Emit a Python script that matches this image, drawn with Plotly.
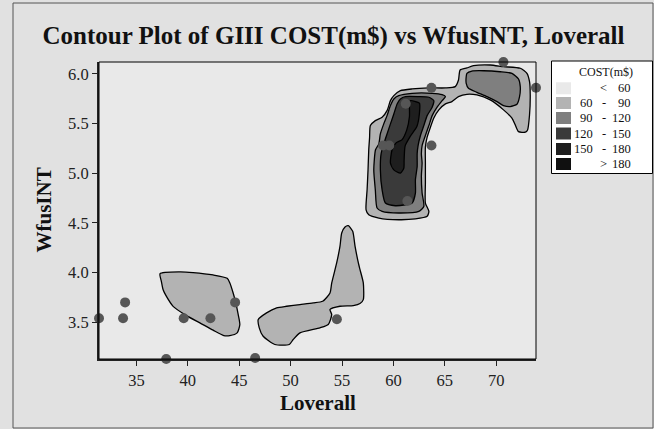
import plotly.graph_objects as go

# ---------------- data ----------------
# observed design points
pts_x = [31.36, 33.7, 33.9, 39.6, 42.2, 44.6, 37.9, 46.55, 54.5,
         70.7, 73.87, 63.7, 61.2, 59.0, 59.6, 63.7, 61.36]
pts_y = [3.54, 3.54, 3.70, 3.54, 3.54, 3.70, 3.13, 3.14, 3.53,
         6.12, 5.86, 5.86, 5.70, 5.28, 5.28, 5.28, 4.72]

# contour band boundaries (Loverall, WfusINT)
c60_left_x = [37.30, 39.22, 40.51, 42.46, 43.83, 44.09, 44.41, 44.67, 44.87, 45.06,
              44.80, 44.09, 43.50, 42.46, 41.17, 39.87, 38.57, 37.92, 37.59, 37.43]
c60_left_y = [3.99, 4.007, 4.00, 3.976, 3.942, 3.896, 3.795, 3.695, 3.594, 3.477,
              3.393, 3.366, 3.366, 3.42, 3.494, 3.567, 3.66, 3.76, 3.83, 3.91]

c60_mid_x = [46.85, 46.95, 47.33, 48.47, 49.87, 50.25, 50.91, 52.85, 53.66, 54.0, 53.83,
             54.80, 56.10, 56.75, 57.07, 57.07, 56.75, 56.59, 56.27, 56.04, 55.61, 55.29,
             54.97, 54.80, 54.48, 54.0, 53.83, 53.12, 52.2, 50.91, 49.61, 48.64, 47.66]
c60_mid_y = [3.527, 3.444, 3.359, 3.276, 3.276, 3.326, 3.393, 3.444, 3.477, 3.577, 3.628,
             3.661, 3.668, 3.688, 3.728, 3.896, 4.03, 4.097, 4.264, 4.415, 4.472, 4.459,
             4.398, 4.264, 4.097, 3.896, 3.795, 3.711, 3.695, 3.678, 3.661, 3.645, 3.594]

c60_big_x = [57.34, 57.44, 57.53, 57.60, 57.68, 57.76, 58.24, 58.90, 59.38, 59.71, 60.04,
             60.68, 61.82, 63.45, 65.06, 66.01, 66.33, 66.49, 67.15, 67.79, 69.42, 70.71,
             72.34, 72.99, 73.24, 73.31, 73.24, 73.05, 72.83, 72.17, 71.85, 71.53, 70.71,
             69.42, 68.12, 67.15, 66.33, 65.69, 65.06, 64.42, 63.93, 63.60, 63.28, 63.11,
             63.11, 63.11, 63.11, 63.45, 63.28, 62.14, 60.52, 58.58, 57.60]
c60_big_y = [4.632, 4.833, 5.034, 5.236, 5.356, 5.480, 5.530, 5.564, 5.630, 5.731, 5.781,
             5.831, 5.849, 5.859, 5.859, 5.872, 5.939, 6.040, 6.060, 6.083, 6.090, 6.073,
             6.057, 6.006, 5.922, 5.788, 5.587, 5.436, 5.413, 5.419, 5.487, 5.554, 5.638,
             5.738, 5.788, 5.795, 5.771, 5.721, 5.698, 5.638, 5.557, 5.464, 5.363, 5.263,
             5.102, 4.901, 4.700, 4.616, 4.566, 4.540, 4.532, 4.549, 4.582]

c90_big_x = [58.41, 58.24, 58.09, 58.26, 58.58, 58.73, 59.06, 59.38, 59.71, 60.04, 60.52,
             61.82, 63.77, 64.74, 65.06, 64.74, 64.25, 63.77, 63.45, 63.11, 62.79, 62.72,
             62.79, 62.72, 62.79, 62.96, 62.47, 60.52, 58.90]
c90_big_y = [4.650, 4.833, 5.034, 5.236, 5.296, 5.396, 5.497, 5.580, 5.681, 5.748, 5.781,
             5.805, 5.805, 5.791, 5.771, 5.731, 5.665, 5.580, 5.480, 5.380, 5.279, 5.196,
             5.102, 4.968, 4.801, 4.666, 4.616, 4.600, 4.616]

c90_top_x = [67.15, 67.63, 68.76, 70.39, 71.53, 72.17, 72.34, 72.27, 72.02, 71.36, 70.71,
             70.07, 69.10, 68.12, 67.30, 67.08, 67.08]
c90_top_y = [6.006, 6.029, 6.032, 6.022, 6.006, 5.949, 5.872, 5.771, 5.695, 5.671, 5.681,
             5.721, 5.771, 5.815, 5.855, 5.905, 5.972]

c120_x = [59.22, 58.90, 58.73, 58.80, 59.06, 59.38, 59.71, 60.04, 60.36, 60.68, 61.17,
          62.47, 63.45, 63.93, 63.77, 63.28, 62.96, 62.63, 62.40, 62.31, 62.31, 62.14,
          62.14, 61.82, 61.17, 60.19]
c120_y = [4.700, 4.833, 5.034, 5.196, 5.296, 5.396, 5.497, 5.597, 5.698, 5.748, 5.771,
          5.771, 5.765, 5.731, 5.665, 5.580, 5.480, 5.380, 5.279, 5.196, 5.068, 4.934,
          4.800, 4.700, 4.683, 4.673]

c150_x = [61.62, 62.53, 62.53, 62.28, 61.62, 61.14, 61.04, 61.01, 60.68, 60.04, 59.71,
          59.87, 60.26, 60.82, 61.30, 61.56, 61.56]
c150_y = [5.731, 5.705, 5.604, 5.470, 5.369, 5.276, 5.135, 5.051, 5.001, 5.034, 5.102,
          5.236, 5.306, 5.336, 5.437, 5.571, 5.688]

# legend bands
band_lo = [None, 60, 90, 120, 150, 180]
band_hi = [60, 90, 120, 150, 180, None]
band_colors = ["#e9e9e9", "#b3b3b3", "#7f7f7f", "#3a3a3a", "#1e1e1e", "#101010"]

x_ticks = [35, 40, 45, 50, 55, 60, 65, 70]
y_ticks = [3.5, 4.0, 4.5, 5.0, 5.5, 6.0]
x_range = [31.36, 73.87]
y_range = [3.13, 6.12]

# ---------------- figure ----------------
W, H = 654, 429
L, R, T, B = 99, 118, 62, 70
SERIF = "Liberation Serif"

fig = go.Figure()

regions = [
    (c60_left_x, c60_left_y, band_colors[1]),
    (c60_mid_x, c60_mid_y, band_colors[1]),
    (c60_big_x, c60_big_y, band_colors[1]),
    (c90_big_x, c90_big_y, band_colors[2]),
    (c90_top_x, c90_top_y, band_colors[2]),
    (c120_x, c120_y, band_colors[3]),
    (c150_x, c150_y, band_colors[4]),
]
for xs, ys, col in regions:
    fig.add_trace(go.Scatter(
        x=list(xs) + [xs[0]], y=list(ys) + [ys[0]],
        mode="lines", fill="toself", fillcolor=col,
        line=dict(color="black", width=1.3, shape="spline", smoothing=0.6),
        hoverinfo="skip", showlegend=False))

fig.add_trace(go.Scatter(
    x=pts_x, y=pts_y, mode="markers",
    marker=dict(color="#565656", size=10),
    cliponaxis=False, showlegend=False, hoverinfo="skip"))


def pxx(px):
    return (px - L) / (W - L - R)


def pxy(py):
    return (H - B - py) / (H - T - B)


shapes = [
    # outer frame
    dict(type="rect", xref="paper", yref="paper", x0=pxx(13), x1=pxx(653),
         y0=pxy(428), y1=pxy(3), line=dict(color="#555555", width=1), layer="below"),
    # plot frame
    dict(type="rect", xref="paper", yref="paper", x0=0, x1=1, y0=0, y1=1,
         line=dict(color="black", width=1)),
    # legend box
    dict(type="rect", xref="paper", yref="paper", x0=pxx(551.5), x1=pxx(652.5),
         y0=pxy(173.5), y1=pxy(61), line=dict(color="black", width=1),
         fillcolor="white"),
]
annotations = [
    dict(text="<b>Loverall</b>", xref="paper", yref="paper", x=0.5, y=pxy(403),
         showarrow=False, font=dict(family=SERIF, size=21, color="#111"),
         xanchor="center", yanchor="middle"),
    dict(text="<b>WfusINT</b>", xref="paper", yref="paper", x=pxx(43), y=0.5,
         showarrow=False, textangle=-90, font=dict(family=SERIF, size=21, color="#111"),
         xanchor="center", yanchor="middle"),
    dict(text="COST(m$)", xref="paper", yref="paper", x=pxx(606), y=pxy(72),
         showarrow=False, font=dict(family=SERIF, size=12, color="#111"),
         xanchor="center", yanchor="middle"),
]
row_y = [88.3, 103, 118, 133.5, 149, 164]
for i, (lo, hi, col) in enumerate(zip(band_lo, band_hi, band_colors)):
    cy = row_y[i]
    shapes.append(dict(type="rect", xref="paper", yref="paper",
                       x0=pxx(556), x1=pxx(571), y0=pxy(cy + 6), y1=pxy(cy - 6),
                       fillcolor=col, line=dict(width=0)))
    if lo is None:
        sym, first, second = "<", "", str(hi)
    elif hi is None:
        sym, first, second = ">", "", str(lo)
    else:
        sym, first, second = "-", str(lo), str(hi)
    f = dict(family=SERIF, size=12.5, color="#111")
    if first:
        annotations.append(dict(text=first, xref="paper", yref="paper", x=pxx(594.5),
                                y=pxy(cy), showarrow=False, xanchor="right",
                                yanchor="middle", font=f))
    annotations.append(dict(text=sym, xref="paper", yref="paper", x=pxx(603.5),
                            y=pxy(cy), showarrow=False, xanchor="center",
                            yanchor="middle", font=f))
    annotations.append(dict(text=second, xref="paper", yref="paper", x=pxx(632.5),
                            y=pxy(cy), showarrow=False, xanchor="right",
                            yanchor="middle", font=f))

fig.update_layout(
    width=W, height=H,
    margin=dict(l=L, r=R, t=T, b=B, pad=0),
    paper_bgcolor="#e1e1e1",
    plot_bgcolor=band_colors[0],
    title=dict(text="<b>Contour Plot of GIII COST(m$) vs WfusINT, Loverall</b>",
               x=333.5 / W, xref="container", xanchor="center",
               y=1 - 35 / H, yref="container", yanchor="middle",
               font=dict(family=SERIF, size=25, color="#111")),
    shapes=shapes,
    annotations=annotations,
    xaxis=dict(range=x_range, tickvals=x_ticks, ticktext=[str(v) for v in x_ticks],
               showgrid=False, zeroline=False, showline=True, linecolor="#222",
               linewidth=2, ticks="outside", ticklen=5, tickcolor="#222",
               tickfont=dict(family=SERIF, size=16.5, color="#222")),
    yaxis=dict(range=y_range, tickvals=y_ticks, ticktext=[f"{v:.1f}" for v in y_ticks],
               showgrid=False, zeroline=False, showline=True, linecolor="#222",
               linewidth=2, ticks="outside", ticklen=5, tickcolor="#222",
               tickfont=dict(family=SERIF, size=16.5, color="#222")),
)

fig.write_html("out.html")
